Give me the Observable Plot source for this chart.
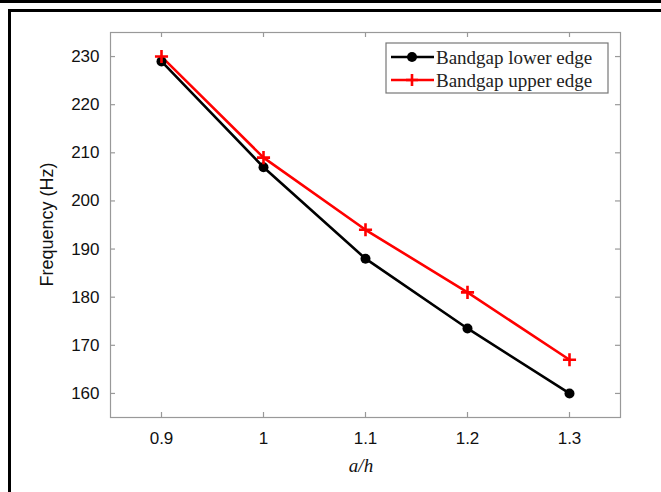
<!DOCTYPE html>
<html>
<head>
<meta charset="utf-8">
<script src="https://cdn.jsdelivr.net/npm/d3@7"></script>
<script src="https://cdn.jsdelivr.net/npm/@observablehq/plot@0.6"></script>
<style>
  html, body { margin: 0; padding: 0; background: #fff; }
  #wrap { position: relative; width: 661px; height: 492px; overflow: hidden; }
  .bar { position: absolute; background: #000; }
</style>
</head>
<body>
<div id="wrap">
  <div class="bar" style="left:0;top:0;width:661px;height:3px;"></div>
  <div class="bar" style="left:8px;top:9px;width:653px;height:3px;"></div>
  <div class="bar" style="left:8px;top:9px;width:3px;height:483px;"></div>
</div>
<script>
const ratios = [0.9, 1.0, 1.1, 1.2, 1.3];
const lowerEdge = [229, 207, 188, 173.5, 160];
const upperEdge = [230, 209, 194, 181, 167];
const xTicks = [0.9, 1.0, 1.1, 1.2, 1.3];
const xTickLabels = ["0.9", "1", "1.1", "1.2", "1.3"];
const yTicks = [160, 170, 180, 190, 200, 210, 220, 230];
const seriesNames = ["Bandgap lower edge", "Bandgap upper edge"];
const seriesColors = ["#000000", "#ff0000"];

const lower = ratios.map((r, i) => ({x: r, y: lowerEdge[i]}));
const upper = ratios.map((r, i) => ({x: r, y: upperEdge[i]}));

const W = 661, H = 492;
const mL = 110, mR = 41, mT = 32, mB = 75;
const fw = W - mL - mR, fh = H - mT - mB;
const tick = 5;
const gray = "#999";

const chart = Plot.plot({
  width: W,
  height: H,
  marginLeft: mL, marginRight: mR, marginTop: mT, marginBottom: mB,
  style: {fontFamily: "'Liberation Sans', sans-serif", background: "transparent", overflow: "visible"},
  x: {domain: [0.85, 1.35]},
  y: {domain: [155, 235]},
  marks: [
    Plot.frame({stroke: gray, strokeWidth: 1.2}),
    Plot.tickX(xTicks, {x: d => d, insetTop: fh - tick, stroke: gray, strokeWidth: 1.2}),
    Plot.tickX(xTicks, {x: d => d, insetBottom: fh - tick, stroke: gray, strokeWidth: 1.2}),
    Plot.tickY(yTicks, {y: d => d, insetRight: fw - tick, stroke: gray, strokeWidth: 1.2}),
    Plot.tickY(yTicks, {y: d => d, insetLeft: fw - tick, stroke: gray, strokeWidth: 1.2}),
    Plot.axisX({ticks: xTicks, tickFormat: d => xTickLabels[xTicks.indexOf(d)], tickSize: 0, tickPadding: 14, fontSize: 17, fill: "#111", label: null}),
    Plot.axisY({ticks: yTicks, tickSize: 0, tickPadding: 11, fontSize: 17, fill: "#111", label: null}),
    Plot.line(lower, {x: "x", y: "y", stroke: seriesColors[0], strokeWidth: 2.6}),
    Plot.line(upper, {x: "x", y: "y", stroke: seriesColors[1], strokeWidth: 2.6}),
    Plot.dot(lower, {x: "x", y: "y", r: 5, fill: seriesColors[0], stroke: "none"}),
    Plot.dot(upper, {x: "x", y: "y", r: 4.3, symbol: "plus", stroke: seriesColors[1], strokeWidth: 2.6})
  ]
});
chart.style.position = "absolute";
chart.style.left = "0px";
chart.style.top = "0px";

const svg = d3.select(chart);
// axis titles
svg.append("text")
  .attr("transform", `translate(48, ${mT + fh / 2}) rotate(-90)`)
  .attr("text-anchor", "middle")
  .attr("dominant-baseline", "middle")
  .attr("font-family", "'Liberation Sans', sans-serif")
  .attr("font-size", 18)
  .attr("fill", "#111")
  .text("Frequency (Hz)");
svg.append("text")
  .attr("x", mL + fw / 2 - 4)
  .attr("y", 468)
  .attr("text-anchor", "middle")
  .attr("dominant-baseline", "middle")
  .attr("font-family", "'Liberation Serif', serif")
  .attr("font-style", "italic")
  .attr("font-size", 19)
  .attr("fill", "#111")
  .text("a/h");

// legend
const lg = svg.append("g");
lg.append("rect")
  .attr("x", 386).attr("y", 43).attr("width", 222).attr("height", 50)
  .attr("fill", "#fff").attr("stroke", "#777").attr("stroke-width", 1.2);
seriesNames.forEach((name, i) => {
  const cy = 57 + i * 23;
  const row = lg.append("g");
  row.append("line").attr("x1", 391).attr("x2", 434).attr("y1", cy).attr("y2", cy)
    .attr("stroke", seriesColors[i]).attr("stroke-width", 2.6);
  if (i === 0) {
    row.append("circle").attr("cx", 412).attr("cy", cy).attr("r", 5).attr("fill", seriesColors[i]);
  } else {
    row.append("path").attr("d", `M${406},${cy}H${418}M412,${cy - 6}V${cy + 6}`)
      .attr("stroke", seriesColors[i]).attr("stroke-width", 2.6).attr("fill", "none");
  }
  row.append("text").attr("x", 436).attr("y", cy).attr("dy", "0.35em")
    .attr("text-anchor", "start")
    .attr("font-family", "'Liberation Serif', serif").attr("font-size", 19)
    .attr("fill", "#222").text(name);
});

document.getElementById("wrap").appendChild(chart);
</script>
</body>
</html>
